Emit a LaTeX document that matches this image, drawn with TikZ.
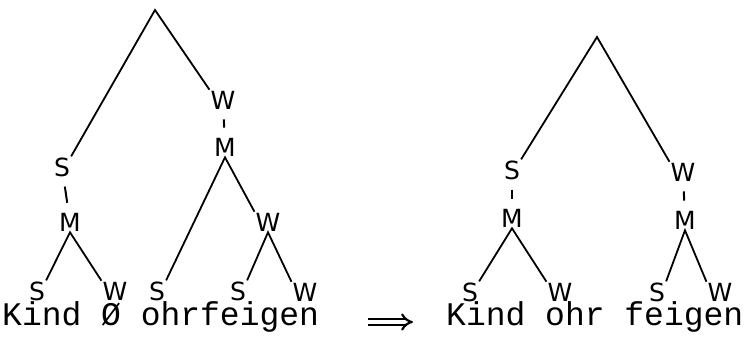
\documentclass[tikz,border=0pt]{standalone}
\usepackage{fontspec}
\setmainfont{DejaVu Sans}
\newfontfamily\typefont{Liberation Mono}
\usetikzlibrary{arrows.meta}

\tikzset{
  lab/.style={font=\fontsize{25}{28}\selectfont, inner sep=1pt},
  word/.style={font=\typefont\fontsize{33}{40}\selectfont, inner sep=0pt, anchor=base west},
  branch/.style={line width=1.8pt},
  tick/.style={line width=2pt, shorten >=9pt, shorten <=9pt}
}

\begin{document}
\begin{tikzpicture}[x=1pt, y=-1pt]
\useasboundingbox (0,0) rectangle (748,341);

% left tree: before
\coordinate (r1) at (155,10);
\node[lab] (s1) at (62,167) {S};
\node[lab] (m1) at (70,222) {M};
\node[lab] (s11) at (37,291) {S};
\node[lab] (w11) at (115,291) {W};
\node[lab] (w2) at (223,100) {W};
\node[lab] (m2) at (225,147) {M};
\node[lab] (s21) at (157,291) {S};
\node[lab] (w22) at (268,222) {W};
\node[lab] (s221) at (238,291) {S};
\node[lab] (w222) at (305,292) {W};

\draw[branch] (s1.north east) -- (r1) -- (w2.north west);
\draw[branch] (s11.north east) -- (m1.south) -- (w11.north west);
\draw[branch] (s21.north east) -- (m2.south) -- (w22.north west);
\draw[branch] (s221.north east) -- (w22.south) -- (w222.north west);
\foreach \a/\b in {s1/m1, w2/m2}
  \draw[tick] (\a) -- (\b);

\node[word] (before) at (2,325) {Kind Ø ohrfeigen};

% rule arrow
\coordinate (from) at (368,322);
\coordinate (to) at (413,322);
\draw[double, double distance=3.5pt, line width=2.2pt, -{Implies}] (from) -- (to);

% right tree: after
\coordinate (r2) at (597,37);
\node[lab] (s3) at (512,170) {S};
\node[lab] (m3) at (512,218) {M};
\node[lab] (s31) at (470,292) {S};
\node[lab] (w31) at (560,292) {W};
\node[lab] (w4) at (683,172) {W};
\node[lab] (m4) at (685,220) {M};
\node[lab] (s41) at (657,292) {S};
\node[lab] (w41) at (720,292) {W};

\draw[branch] (s3.north east) -- (r2) -- (w4.north west);
\draw[branch] (s31.north east) -- (m3.south) -- (w31.north west);
\draw[branch] (s41.north east) -- (m4.south) -- (w41.north west);
\foreach \a/\b in {s3/m3, w4/m4}
  \draw[tick] (\a) -- (\b);

\node[word] (after) at (446,325) {Kind ohr feigen};
\end{tikzpicture}
\end{document}
